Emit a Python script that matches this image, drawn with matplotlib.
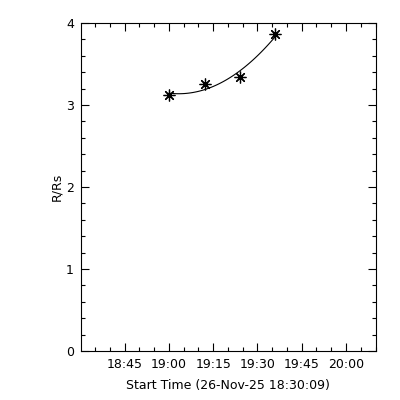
import numpy as np
import matplotlib
matplotlib.use('Agg')
import matplotlib.pyplot as plt
import matplotlib.dates as mdates
from datetime import datetime

# height-time measurements
times = ['2025-11-26 19:00:05', '2025-11-26 19:12:05', '2025-11-26 19:24:05', '2025-11-26 19:36:05']
heights = [3.12, 3.26, 3.345, 3.86]
start = datetime(2025, 11, 26, 18, 30, 9)
end = datetime(2025, 11, 26, 20, 10, 9)

t = [datetime.strptime(s, '%Y-%m-%d %H:%M:%S') for s in times]
tnum = mdates.date2num(t)

# quadratic fit through the points
coef = np.polyfit(tnum - tnum[0], heights, 2)
tf = np.linspace(tnum[0], tnum[-1], 100)
hf = np.polyval(coef, tf - tnum[0])

fig = plt.figure(figsize=(4, 4), dpi=100)
ax = fig.add_axes([80.7 / 400, 1 - 351 / 400, (376 - 80.7) / 400, (351 - 23) / 400])

ax.plot(tf, hf, color='black', lw=0.8)
ax.plot(tnum, heights, ls='none', marker=(8, 2, 0), ms=8.5, mec='black', mew=0.9, color='black')

ax.set_xlim(mdates.date2num(start), mdates.date2num(end))
ax.set_ylim(0, 4)
ax.xaxis.set_major_locator(mdates.MinuteLocator(byminute=[0, 15, 30, 45]))
ax.xaxis.set_minor_locator(mdates.MinuteLocator(byminute=range(0, 60, 5)))
ax.set_yticks([0, 1, 2, 3, 4])
ax.set_yticks(np.arange(0, 4.01, 0.2), minor=True)

# drop the 18:30 tick label at the left edge like the original
def fmt(x, pos):
    d = mdates.num2date(x)
    if d.hour == 18 and d.minute == 30:
        return ''
    return d.strftime('%H:%M')
ax.xaxis.set_major_formatter(plt.FuncFormatter(fmt))

ax.tick_params(which='both', direction='in', top=True, right=True, width=0.8, labelsize=9)
ax.tick_params(which='major', length=6, pad=5)
ax.tick_params(which='minor', length=3)
for sp in ax.spines.values():
    sp.set_linewidth(0.8)

ax.set_xlabel('Start Time (26-Nov-25 18:30:09)', fontsize=9, labelpad=6)
ax.set_ylabel('R/Rs', fontsize=9, labelpad=2)

fig.savefig('out.png', dpi=100)
